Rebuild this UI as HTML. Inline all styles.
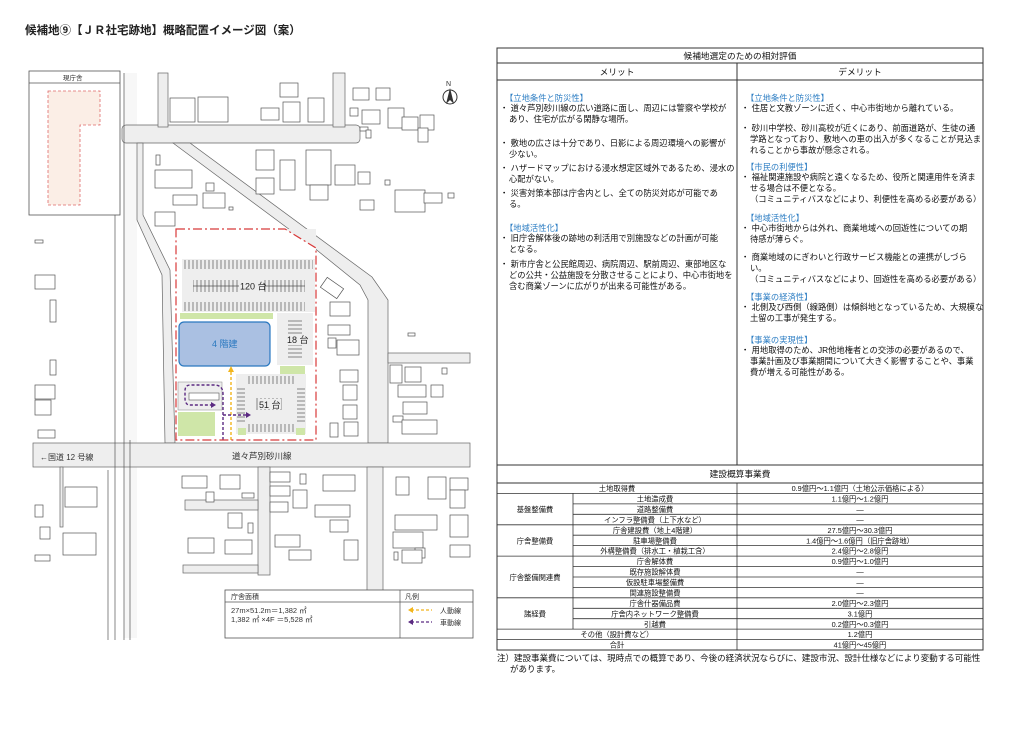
<!DOCTYPE html>
<html><head><meta charset="utf-8">
<style>
body{margin:0;background:#fff;}
#w{position:relative;width:1024px;height:729px;overflow:hidden;background:#fff;font-family:"Liberation Sans","Noto Sans CJK JP",sans-serif;}
.t{position:absolute;font-size:8.3px;line-height:11px;color:#111;white-space:nowrap;}
.h{color:#2f7fc4;}
.b{padding-left:9px;text-indent:-9px;}
</style></head><body><div id="w">
<svg width="1024" height="729" style="position:absolute;left:0;top:0">
<defs>
<pattern id="st" width="4" height="10" patternUnits="userSpaceOnUse"><line x1="1" y1="0" x2="1" y2="10" stroke="#555" stroke-width="0.7"/></pattern>
<pattern id="sh" width="10" height="4" patternUnits="userSpaceOnUse"><line x1="0" y1="1" x2="10" y2="1" stroke="#555" stroke-width="0.7"/></pattern>
</defs>
<text x="25" y="34" font-size="11.5" font-weight="bold" fill="#222" font-family="Liberation Sans,Noto Sans CJK JP,sans-serif">候補地⑨【ＪＲ社宅跡地】概略配置イメージ図（案）</text>
<!-- roads -->
<g fill="#eeeeee" stroke="#666" stroke-width="0.7">
<rect x="124" y="73" width="13" height="565" stroke="none" fill="#f7f7f7"/>
<rect x="122" y="125" width="238" height="18" rx="4"/>
<rect x="158" y="73" width="10" height="54"/>
<rect x="333" y="73" width="12" height="54"/>
<polygon points="173,143 190,143 372,277 388,300 388,443 368,443 368,300 360,285 313,247"/>
<polygon points="137,143 143,143 143,215 170,270 175,443 165,443 162,275 137,220"/>
<rect x="33" y="443" width="437" height="24"/>
<rect x="388" y="353" width="82" height="10"/>
<rect x="258" y="467" width="12" height="108"/>
<rect x="367" y="467" width="16" height="125"/>
<rect x="185" y="500" width="73" height="10"/>
<rect x="183" y="565" width="75" height="8"/>
<rect x="60" y="467" width="3" height="60"/>
</g>
<g stroke="#555" stroke-width="0.7">
<line x1="115" y1="215" x2="115" y2="640"/><line x1="124" y1="73" x2="124" y2="640"/><line x1="130" y1="440" x2="130" y2="640"/><line x1="108" y1="470" x2="108" y2="640"/>
</g>
<text x="40" y="460" font-size="8" fill="#333">←国道 12 号線</text>
<text x="232" y="459" font-size="8.5" fill="#333">道々芦別砂川線</text>
<!-- current office -->
<rect x="29" y="71" width="91" height="144" fill="#fff" stroke="#555" stroke-width="0.8"/>
<line x1="29" y1="83" x2="120" y2="83" stroke="#555" stroke-width="0.8"/>
<text x="63" y="80" font-size="6.5" fill="#333">現庁舎</text>
<polygon points="48,91 100,91 100,125 80,125 80,205 48,205" fill="#fbeee6" stroke="#e06a6a" stroke-width="0.8" stroke-dasharray="3 2"/>
<!-- north -->
<circle cx="450" cy="97" r="7" fill="#fff" stroke="#333"/><polygon points="450,88 446,104 450,100 454,104" fill="#333"/>
<text x="446" y="86" font-size="7" fill="#333">N</text>
<!-- buildings -->
<g fill="#fff" stroke="#555" stroke-width="0.7">
<rect x="170" y="98" width="25" height="24"/><rect x="198" y="97" width="30" height="25"/><rect x="261" y="108" width="18" height="12"/><rect x="283" y="102" width="17" height="20"/><rect x="308" y="98" width="16" height="24"/><rect x="280" y="83" width="18" height="14"/>
<rect x="353" y="88" width="16" height="12"/><rect x="376" y="88" width="14" height="12"/><rect x="362" y="110" width="18" height="14"/><rect x="388" y="108" width="16" height="20"/><rect x="402" y="117" width="16" height="13"/><rect x="420" y="115" width="14" height="15"/><rect x="418" y="128" width="10" height="14"/><rect x="350" y="108" width="8" height="8"/><rect x="360" y="127" width="8" height="4"/><rect x="366" y="130" width="5" height="8"/>
<rect x="256" y="150" width="18" height="20"/><rect x="256" y="178" width="18" height="16"/><rect x="280" y="160" width="15" height="30"/><rect x="306" y="150" width="25" height="35"/><rect x="310" y="185" width="18" height="15"/><rect x="335" y="165" width="20" height="20"/><rect x="358" y="172" width="12" height="12"/><rect x="385" y="180" width="5" height="5"/><rect x="360" y="200" width="14" height="10"/><rect x="395" y="190" width="30" height="22"/><rect x="424" y="193" width="18" height="10"/><rect x="448" y="193" width="6" height="5"/>
<rect x="155" y="170" width="37" height="18"/><rect x="156" y="155" width="4" height="10"/><rect x="173" y="195" width="24" height="10"/><rect x="203" y="193" width="22" height="15"/><rect x="206" y="183" width="8" height="8"/><rect x="155" y="212" width="20" height="14"/><rect x="229" y="207" width="4" height="3"/>
<rect x="322" y="282" width="20" height="12" transform="rotate(35 332 288)"/><rect x="330" y="302" width="20" height="14"/><rect x="328" y="325" width="22" height="10"/>
<rect x="328" y="338" width="8" height="10"/><rect x="337" y="340" width="22" height="15"/><rect x="340" y="370" width="18" height="12"/><rect x="343" y="385" width="14" height="15"/><rect x="343" y="405" width="14" height="14"/><rect x="330" y="423" width="8" height="14"/><rect x="344" y="422" width="14" height="14"/><rect x="408" y="333" width="7" height="3"/>
<rect x="390" y="365" width="12" height="18"/><rect x="405" y="367" width="16" height="15"/><rect x="398" y="385" width="28" height="12"/><rect x="431" y="385" width="12" height="12"/><rect x="403" y="402" width="24" height="12"/><rect x="393" y="416" width="10" height="6"/><rect x="402" y="420" width="35" height="14"/><rect x="442" y="368" width="5" height="6"/>
<rect x="35" y="275" width="20" height="14"/><rect x="35" y="385" width="20" height="14"/><rect x="38" y="430" width="17" height="8"/><rect x="35" y="400" width="16" height="15"/><rect x="50" y="360" width="6" height="15"/><rect x="50" y="300" width="6" height="22"/><rect x="35" y="240" width="8" height="3"/>
<rect x="182" y="476" width="25" height="12"/><rect x="220" y="475" width="20" height="14"/><rect x="206" y="492" width="8" height="10"/><rect x="242" y="493" width="12" height="5"/><rect x="228" y="513" width="14" height="15"/><rect x="248" y="523" width="5" height="10"/><rect x="188" y="538" width="26" height="15"/><rect x="225" y="540" width="27" height="14"/>
<rect x="270" y="472" width="20" height="10"/><rect x="300" y="474" width="6" height="10"/><rect x="270" y="486" width="20" height="10"/><rect x="293" y="490" width="14" height="18"/><rect x="270" y="502" width="18" height="10"/><rect x="323" y="475" width="32" height="16"/><rect x="315" y="505" width="35" height="12"/><rect x="330" y="520" width="18" height="12"/><rect x="275" y="535" width="25" height="12"/><rect x="289" y="550" width="22" height="10"/><rect x="344" y="540" width="14" height="20"/>
<rect x="65" y="487" width="32" height="20"/><rect x="63" y="533" width="33" height="22"/><rect x="35" y="505" width="8" height="12"/><rect x="40" y="527" width="10" height="12"/><rect x="35" y="555" width="15" height="6"/>
<rect x="396" y="477" width="13" height="18"/><rect x="428" y="477" width="18" height="22"/><rect x="450" y="478" width="18" height="12"/><rect x="450" y="490" width="15" height="18"/><rect x="395" y="515" width="42" height="15"/><rect x="393" y="532" width="30" height="16"/><rect x="415" y="548" width="10" height="10"/><rect x="450" y="515" width="18" height="22"/><rect x="450" y="545" width="20" height="12"/><rect x="402" y="550" width="20" height="13"/><rect x="394" y="552" width="4" height="8"/>
</g>
<!-- site -->
<rect x="176" y="229" width="140" height="211" fill="#fff"/>
<polygon points="285,229 316,248 316,229" fill="#eeeeee"/>
<rect x="182" y="259" width="133" height="53" fill="#eeeeee"/>
<rect x="183" y="260" width="130" height="9" fill="url(#st)"/>
<rect x="183" y="302" width="122" height="9" fill="url(#st)"/>
<rect x="193" y="280" width="112" height="12" fill="url(#st)"/>
<line x1="193" y1="286" x2="305" y2="286" stroke="#555" stroke-width="0.7"/>
<rect x="239" y="280" width="25" height="12" fill="#eeeeee"/>
<text x="240" y="289.5" font-size="9" fill="#222">120 台</text>
<rect x="180" y="313" width="93" height="6" fill="#cfe6a8"/>
<rect x="179" y="322" width="91" height="44" rx="5" fill="#aac0e2" stroke="#2a78c0" stroke-width="1.2"/>
<text x="212" y="347" font-size="9" fill="#2a78c0">4 階建</text>
<rect x="277" y="313" width="36" height="52" fill="#eeeeee"/>
<rect x="288" y="320" width="14" height="38" fill="url(#sh)"/>
<rect x="287" y="335" width="24" height="10" fill="#eeeeee"/>
<text x="287" y="343" font-size="9" fill="#222">18 台</text>
<rect x="280" y="366" width="25" height="9" fill="#cfe6a8"/>
<rect x="236" y="374" width="70" height="60" fill="#eeeeee"/>
<rect x="248" y="376" width="48" height="8" fill="url(#st)"/>
<rect x="248" y="424" width="48" height="8" fill="url(#st)"/>
<rect x="237" y="386" width="8" height="36" fill="url(#sh)"/>
<rect x="297" y="386" width="8" height="36" fill="url(#sh)"/>
<rect x="256" y="398" width="28" height="12" fill="url(#st)"/>
<rect x="259" y="399" width="22" height="10" fill="#eeeeee"/>
<text x="259" y="408" font-size="9" fill="#222">51 台</text>
<rect x="238" y="428" width="8" height="7" fill="#cfe6a8"/><rect x="296" y="428" width="9" height="7" fill="#cfe6a8"/>
<rect x="178" y="382" width="44" height="28" fill="#eeeeee" stroke="#888" stroke-width="0.5"/>
<rect x="189" y="393" width="30" height="7" fill="#fff" stroke="#555" stroke-width="0.6"/>
<rect x="178" y="412" width="37" height="24" fill="#cfe6a8"/>
<path d="M231,440 L231,370" stroke="#f2b51c" stroke-width="1.4" stroke-dasharray="3 2" fill="none"/>
<polygon points="228,372 231,366 234,372" fill="#f2b51c"/>
<path d="M223,440 L223,394 Q223,385 214,385 L190,385 Q185,385 185,391 L185,398 Q185,405 190,405 L212,405" stroke="#5b2a82" stroke-width="1.4" stroke-dasharray="3 2" fill="none"/>
<polygon points="211,402 216,405 211,408" fill="#5b2a82"/>
<path d="M223,415 L247,415" stroke="#5b2a82" stroke-width="1.4" stroke-dasharray="3 2" fill="none"/>
<polygon points="246,412 251,415 246,418" fill="#5b2a82"/>
<polygon points="176,229 285,229 316,248 316,440 176,440" fill="none" stroke="#d83a3a" stroke-width="1.2" stroke-dasharray="9 3 2 3"/>
<!-- legend -->
<rect x="225" y="590" width="248" height="48" fill="#fff" stroke="#555" stroke-width="0.8"/>
<line x1="225" y1="602" x2="473" y2="602" stroke="#555" stroke-width="0.7"/>
<line x1="400" y1="590" x2="400" y2="638" stroke="#555" stroke-width="0.7"/>
<text x="231" y="599" font-size="7" fill="#333">庁舎面積</text>
<text x="405" y="599" font-size="7" fill="#333">凡例</text>
<text x="231" y="613" font-size="7.5" fill="#333">27m×51.2m＝1,382 ㎡</text>
<text x="231" y="622" font-size="7.5" fill="#333">1,382 ㎡ ×4F ＝5,528 ㎡</text>
<line x1="411" y1="610" x2="432" y2="610" stroke="#f2b51c" stroke-width="1.2" stroke-dasharray="3 2"/><polygon points="413,607 408,610 413,613" fill="#f2b51c"/>
<text x="440" y="613" font-size="7" fill="#333">人動線</text>
<line x1="411" y1="622" x2="432" y2="622" stroke="#5b2a82" stroke-width="1.2" stroke-dasharray="3 2"/><polygon points="413,619 408,622 413,625" fill="#5b2a82"/>
<text x="440" y="625" font-size="7" fill="#333">車動線</text>

<!-- right evaluation table -->
<g stroke="#333" stroke-width="1" fill="none">
<rect x="497" y="48" width="486" height="602"/>
<line x1="497" y1="63" x2="983" y2="63"/>
<line x1="497" y1="80" x2="983" y2="80"/>
<line x1="737" y1="63" x2="737" y2="465"/>
<line x1="497" y1="465" x2="983" y2="465"/>
<line x1="497" y1="483" x2="983" y2="483"/>
</g>
<g font-size="8.7" fill="#111" text-anchor="middle">
<text x="740" y="59">候補地選定のための相対評価</text>
<text x="617" y="75">メリット</text>
<text x="860" y="75">デメリット</text>
<text x="740" y="477">建設概算事業費</text>
</g>
<!-- cost table -->
<g stroke="#333" stroke-width="0.8">
<line x1="737" y1="483" x2="737" y2="650"/>
<line x1="573" y1="493.4" x2="573" y2="629.1"/>
<line x1="497" y1="493.4" x2="983" y2="493.4"/>
<line x1="573" y1="503.9" x2="983" y2="503.9"/>
<line x1="573" y1="514.3" x2="983" y2="514.3"/>
<line x1="497" y1="524.8" x2="983" y2="524.8"/>
<line x1="573" y1="535.2" x2="983" y2="535.2"/>
<line x1="573" y1="545.6" x2="983" y2="545.6"/>
<line x1="497" y1="556.1" x2="983" y2="556.1"/>
<line x1="573" y1="566.5" x2="983" y2="566.5"/>
<line x1="573" y1="577.0" x2="983" y2="577.0"/>
<line x1="573" y1="587.4" x2="983" y2="587.4"/>
<line x1="497" y1="597.8" x2="983" y2="597.8"/>
<line x1="573" y1="608.3" x2="983" y2="608.3"/>
<line x1="573" y1="618.7" x2="983" y2="618.7"/>
<line x1="497" y1="629.1" x2="983" y2="629.1"/>
<line x1="497" y1="639.6" x2="983" y2="639.6"/>
</g>
<g font-size="7.3" fill="#111" text-anchor="middle">
<text x="617" y="491">土地取得費</text><text x="860" y="491">0.9億円～1.1億円（土地公示価格による）</text>
<text x="655" y="501.5">土地造成費</text><text x="860" y="501.5">1.1億円～1.2億円</text>
<text x="655" y="512">道路整備費</text><text x="860" y="512">―</text>
<text x="655" y="522.4">インフラ整備費（上下水など）</text><text x="860" y="522.4">―</text>
<text x="655" y="532.8">庁舎建設費（地上4階建）</text><text x="860" y="532.8">27.5億円～30.3億円</text>
<text x="655" y="543.3">駐車場整備費</text><text x="860" y="543.3">1.4億円～1.6億円（旧庁舎跡地）</text>
<text x="655" y="553.7">外構整備費（排水工・植栽工含）</text><text x="860" y="553.7">2.4億円～2.8億円</text>
<text x="655" y="564.2">庁舎解体費</text><text x="860" y="564.2">0.9億円～1.0億円</text>
<text x="655" y="574.6">既存施設解体費</text><text x="860" y="574.6">―</text>
<text x="655" y="585">仮設駐車場整備費</text><text x="860" y="585">―</text>
<text x="655" y="595.5">関連施設整備費</text><text x="860" y="595.5">―</text>
<text x="655" y="605.9">庁舎什器備品費</text><text x="860" y="605.9">2.0億円～2.3億円</text>
<text x="655" y="616.4">庁舎内ネットワーク整備費</text><text x="860" y="616.4">3.1億円</text>
<text x="655" y="626.8">引越費</text><text x="860" y="626.8">0.2億円～0.3億円</text>
<text x="617" y="637.2">その他（設計費など）</text><text x="860" y="637.2">1.2億円</text>
<text x="617" y="647.7">合計</text><text x="860" y="647.7">41億円～45億円</text>
<text x="535" y="512">基盤整備費</text>
<text x="535" y="543.3">庁舎整備費</text>
<text x="535" y="579.8">庁舎整備関連費</text>
<text x="535" y="616.4">諸経費</text>
</g>
<text x="497" y="661" font-size="8.5" fill="#111">注）建設事業費については、現時点での概算であり、今後の経済状況ならびに、建設市況、設計仕様などにより変動する可能性</text>
<text x="510" y="672" font-size="8.5" fill="#111">があります。</text>
</svg>

<div class="t h" style="left:505px;top:93px">【立地条件と防災性】</div>
<div class="t b" style="left:500px;top:103px">・ 道々芦別砂川線の広い道路に面し、周辺には警察や学校が<br>あり、住宅が広がる閑静な場所。</div>
<div class="t b" style="left:500px;top:138px">・ 敷地の広さは十分であり、日影による周辺環境への影響が<br>少ない。</div>
<div class="t b" style="left:500px;top:163px">・ ハザードマップにおける浸水想定区域外であるため、浸水の<br>心配がない。</div>
<div class="t b" style="left:500px;top:188px">・ 災害対策本部は庁舎内とし、全ての防災対応が可能であ<br>る。</div>
<div class="t h" style="left:505px;top:223px">【地域活性化】</div>
<div class="t b" style="left:500px;top:233px">・ 旧庁舎解体後の跡地の利活用で別施設などの計画が可能<br>となる。</div>
<div class="t b" style="left:500px;top:259px">・ 新市庁舎と公民館周辺、病院周辺、駅前周辺、東部地区な<br>どの公共・公益施設を分散させることにより、中心市街地を<br>含む商業ゾーンに広がりが出来る可能性がある。</div>

<div class="t h" style="left:746px;top:93px">【立地条件と防災性】</div>
<div class="t b" style="left:741px;top:103px">・ 住居と文教ゾーンに近く、中心市街地から離れている。</div>
<div class="t b" style="left:741px;top:123px">・ 砂川中学校、砂川高校が近くにあり、前面道路が、生徒の通<br>学路となっており、敷地への車の出入が多くなることが見込ま<br>れることから事故が懸念される。</div>
<div class="t h" style="left:746px;top:162px">【市民の利便性】</div>
<div class="t b" style="left:741px;top:172px">・ 福祉関連施設や病院と遠くなるため、役所と関連用件を済ま<br>せる場合は不便となる。<br>（コミュニティバスなどにより、利便性を高める必要がある）</div>
<div class="t h" style="left:746px;top:213px">【地域活性化】</div>
<div class="t b" style="left:741px;top:223px">・ 中心市街地からは外れ、商業地域への回遊性についての期<br>待感が薄らぐ。</div>
<div class="t b" style="left:741px;top:252px">・ 商業地域のにぎわいと行政サービス機能との連携がしづら<br>い。<br>（コミュニティバスなどにより、回遊性を高める必要がある）</div>
<div class="t h" style="left:746px;top:292px">【事業の経済性】</div>
<div class="t b" style="left:741px;top:302px">・ 北側及び西側（線路側）は傾斜地となっているため、大規模な<br>土留の工事が発生する。</div>
<div class="t h" style="left:746px;top:335px">【事業の実現性】</div>
<div class="t b" style="left:741px;top:345px">・ 用地取得のため、JR他地権者との交渉の必要があるので、<br>事業計画及び事業期間について大きく影響することや、事業<br>費が増える可能性がある。</div>
</div></body></html>
